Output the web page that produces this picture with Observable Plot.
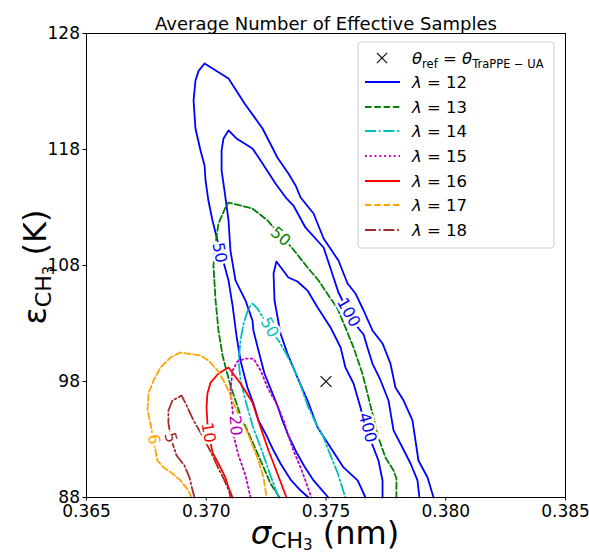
<!DOCTYPE html>
<html>
<head>
<meta charset="utf-8">
<script src="https://cdn.jsdelivr.net/npm/d3@7"></script>
<script src="https://cdn.jsdelivr.net/npm/@observablehq/plot@0.6"></script>
<style>
  html, body { margin: 0; padding: 0; background: white; }
  #chart { width: 589px; height: 554px; }
</style>
</head>
<body>
<div id="chart"></div>
<script>
// ---- Tick values ----
const xTicks = [0.365, 0.370, 0.375, 0.380, 0.385];
const yTicks = [88, 98, 108, 118, 128];

// ---- Reference point theta_TraPPE-UA ----
const refPoint = [{sigma: 0.375, epsilon: 98}];

// ---- Contour lines [sigma (nm), epsilon (K)] ----
// lambda = 12, level 50
const lam12_n50 = [[0.37427,88.00],[0.37394,88.60],[0.37352,89.55],[0.37310,90.93],[0.37281,92.05],[0.37247,93.52],[0.37218,94.64],[0.37197,96.10],[0.37172,97.48],[0.37143,99.81],[0.37126,101.97],[0.37110,104.55],[0.37093,106.71],[0.37068,108.60],[0.37047,110.16],[0.37026,111.88],[0.37009,113.60],[0.36997,115.33],[0.36993,116.62],[0.36976,117.91],[0.36955,119.81],[0.36947,122.22],[0.36955,123.95],[0.36968,124.78],[0.36993,125.41],[0.37093,124.12],[0.37160,121.97],[0.37235,119.81],[0.37297,117.31],[0.37343,115.93],[0.37373,114.90],[0.37394,113.86],[0.37448,112.48],[0.37490,110.33],[0.37552,108.43],[0.37590,106.45],[0.37623,105.59],[0.37657,104.12],[0.37694,102.40],[0.37736,101.28],[0.37769,99.55],[0.37790,97.48],[0.37824,96.36],[0.37861,94.64],[0.37886,91.19],[0.37924,89.72],[0.37949,88.00]];
// lambda = 12, level 100
const lam12_n100 = [[0.37510,88.00],[0.37485,88.60],[0.37448,89.47],[0.37410,90.67],[0.37377,91.88],[0.37343,93.34],[0.37318,94.64],[0.37297,95.93],[0.37272,97.22],[0.37243,98.69],[0.37218,100.67],[0.37197,102.40],[0.37193,103.26],[0.37164,104.98],[0.37122,106.71],[0.37101,109.29],[0.37093,111.88],[0.37076,114.47],[0.37064,116.19],[0.37064,117.91],[0.37072,118.95],[0.37093,119.64],[0.37126,118.95],[0.37193,118.09],[0.37235,116.79],[0.37289,115.07],[0.37335,113.78],[0.37364,113.17],[0.37414,111.28],[0.37490,109.55],[0.37519,107.74],[0.37552,105.67],[0.37594,103.95],[0.37636,102.57],[0.37657,102.05],[0.37673,100.93],[0.37694,99.55],[0.37728,98.09],[0.37761,96.36],[0.37782,93.78],[0.37819,92.31],[0.37853,90.93],[0.37882,89.47],[0.37890,88.00]];
// lambda = 12, level 400
const lam12_n400 = [[0.37665,88.00],[0.37632,89.47],[0.37573,90.59],[0.37519,92.31],[0.37465,94.03],[0.37423,96.36],[0.37381,98.34],[0.37339,100.41],[0.37310,102.14],[0.37285,104.98],[0.37281,107.31],[0.37293,108.34],[0.37343,106.97],[0.37381,106.62],[0.37423,105.84],[0.37465,104.38],[0.37519,102.66],[0.37561,100.93],[0.37581,99.21],[0.37615,97.83],[0.37644,95.76],[0.37665,94.03],[0.37698,92.31],[0.37719,91.19],[0.37736,89.47],[0.37736,88.00]];
// lambda = 13, level 50
const lam13_n50 = [[0.37306,88.00],[0.37268,89.21],[0.37227,91.19],[0.37185,93.17],[0.37143,95.07],[0.37101,97.66],[0.37068,100.24],[0.37051,102.40],[0.37039,104.98],[0.37030,108.00],[0.37039,109.90],[0.37051,111.62],[0.37080,113.00],[0.37093,113.43],[0.37193,112.91],[0.37256,111.88],[0.37310,110.59],[0.37360,109.47],[0.37423,107.83],[0.37469,106.71],[0.37519,105.16],[0.37548,104.29],[0.37581,102.66],[0.37615,100.93],[0.37652,98.69],[0.37673,96.97],[0.37694,95.24],[0.37719,93.17],[0.37748,91.45],[0.37782,90.33],[0.37794,89.64],[0.37794,88.00]];
// lambda = 14, level 50
const lam14_n50 = [[0.37302,88.00],[0.37268,89.90],[0.37235,91.88],[0.37193,94.21],[0.37164,96.36],[0.37143,98.09],[0.37135,99.81],[0.37143,101.53],[0.37156,103.00],[0.37176,104.29],[0.37193,104.72],[0.37214,104.29],[0.37239,103.43],[0.37268,102.40],[0.37302,101.53],[0.37331,100.50],[0.37364,99.21],[0.37394,97.66],[0.37423,95.93],[0.37456,94.47],[0.37490,93.17],[0.37519,91.62],[0.37548,90.16],[0.37581,88.00]];
// lambda = 15, level 20
const lam15_n20 = [[0.37185,88.00],[0.37164,89.90],[0.37135,91.62],[0.37114,93.34],[0.37110,95.50],[0.37101,97.22],[0.37110,98.95],[0.37130,99.72],[0.37164,99.98],[0.37197,99.98],[0.37227,98.95],[0.37256,97.48],[0.37297,95.93],[0.37323,94.64],[0.37343,93.34],[0.37364,92.05],[0.37394,90.59],[0.37414,89.47],[0.37439,88.00]];
// lambda = 16, level 10
const lam16_n10 = [[0.37110,88.00],[0.37093,88.86],[0.37080,89.72],[0.37051,90.93],[0.37026,91.88],[0.37014,93.17],[0.37005,94.38],[0.37001,95.76],[0.37005,96.97],[0.37018,97.91],[0.37051,98.69],[0.37093,99.21],[0.37143,97.83],[0.37193,96.19],[0.37227,94.03],[0.37260,92.05],[0.37297,90.07],[0.37335,88.00]];
// lambda = 17, level 6
const lam17_n6 = [[0.36938,88.00],[0.36926,88.60],[0.36892,89.47],[0.36859,90.07],[0.36822,90.59],[0.36796,91.19],[0.36780,92.91],[0.36767,94.38],[0.36755,95.50],[0.36759,96.97],[0.36780,98.09],[0.36809,99.21],[0.36851,100.07],[0.36892,100.50],[0.36976,100.24],[0.37009,99.81],[0.37047,98.95],[0.37072,98.09],[0.37093,97.22],[0.37114,96.10],[0.37143,94.81],[0.37172,93.60],[0.37197,92.31],[0.37218,91.19],[0.37239,89.72],[0.37252,88.00]];
// lambda = 18, level 5
const lam18_n5 = [[0.36951,88.00],[0.36943,88.60],[0.36930,89.72],[0.36909,90.76],[0.36876,91.62],[0.36855,92.91],[0.36842,94.38],[0.36842,95.50],[0.36859,96.36],[0.36897,96.79],[0.36918,95.93],[0.36947,94.64],[0.36976,93.60],[0.37005,92.48],[0.37030,91.45],[0.37051,90.50],[0.37076,89.47],[0.37097,88.43],[0.37101,88.00]];

// ---- Contour labels ----
const labelText  = ["50", "100", "400", "50", "50", "20", "10", "6", "5"];
const labelSigma = [0.37055, 0.37594, 0.37673, 0.37310, 0.37264, 0.37122, 0.37009, 0.36780, 0.36851];
const labelEps   = [109.12, 103.95, 94.03, 110.50, 102.66, 94.21, 93.60, 93.00, 93.17];
const labelAngle = [80, 60, 75, 40, 60, 85, 80, 80, 75];
const labelSeries = [0, 0, 0, 1, 2, 3, 4, 5, 6];

// ---- Series styling ----
const seriesNames = ["λ = 12", "λ = 13", "λ = 14", "λ = 15", "λ = 16", "λ = 17", "λ = 18"];
const seriesColors = ["#0000ff", "#008000", "#00bfbf", "#bf00bf", "#ff0000", "#ffa500", "#a52a2a"];
const seriesDash = [null, "6.5,2.8", "11,2.8,1.8,2.8", "1.8,3", null, "6.5,2.8", "11,2.8,1.8,2.8"];
const seriesPaths = [[lam12_n50, lam12_n100, lam12_n400], [lam13_n50], [lam14_n50], [lam15_n20], [lam16_n10], [lam17_n6], [lam18_n5]];

const FONT = "DejaVu Sans, sans-serif";
const LW = 1.8;
const marks = [];

seriesPaths.forEach((paths, si) => {
  paths.forEach(path => {
    marks.push(Plot.line(path, {
      x: d => d[0], y: d => d[1],
      stroke: seriesColors[si],
      strokeWidth: LW,
      strokeDasharray: seriesDash[si] || undefined,
      curve: "linear"
    }));
  });
});

labelText.forEach((t, i) => {
  marks.push(Plot.text([{x: labelSigma[i], y: labelEps[i], t}], {
    x: "x", y: "y", text: "t",
    fill: seriesColors[labelSeries[i]],
    rotate: labelAngle[i],
    fontSize: 16,
    stroke: "white", strokeWidth: 5, paintOrder: "stroke"
  }));
});

marks.push(Plot.dot(refPoint, {x: "sigma", y: "epsilon", symbol: "times", r: 5, stroke: "black", strokeWidth: 1.1}));
marks.push(Plot.frame({stroke: "black", strokeWidth: 1}));
marks.push(Plot.axisX({ticks: xTicks, tickFormat: d3.format(".3f"), tickSize: 3.5, tickPadding: 4, fontSize: 17, label: null}));
marks.push(Plot.axisY({ticks: yTicks, tickFormat: d3.format("d"), tickSize: 3.5, tickPadding: 3, fontSize: 17, label: null}));
marks.push(Plot.text(["Average Number of Effective Samples"], {frameAnchor: "top", dy: -16, fontSize: 18}));

const svgEl = Plot.plot({
  width: 589, height: 554,
  marginTop: 33, marginLeft: 86, marginRight: 24, marginBottom: 57,
  x: {domain: [0.365, 0.385]},
  y: {domain: [88, 128]},
  style: {fontFamily: FONT, fontSize: "16px", color: "black", background: "white"},
  marks
});

const svg = d3.select(svgEl);

// ---- Axis labels (with subscripts) ----
const xl = svg.append("text").attr("x", 325).attr("y", 544).attr("text-anchor", "middle")
  .attr("font-family", FONT).attr("font-size", 32).attr("fill", "black");
xl.append("tspan").attr("font-style", "italic").text("σ");
xl.append("tspan").attr("font-size", 22).attr("dy", 4).text("CH");
xl.append("tspan").attr("font-size", 15).attr("dy", 2).text("3");
xl.append("tspan").attr("dy", -6).text(" (nm)");

const yl = svg.append("text").attr("transform", "translate(46,267) rotate(-90)").attr("text-anchor", "middle")
  .attr("font-family", FONT).attr("font-size", 32).attr("fill", "black");
yl.append("tspan").text("ε");
yl.append("tspan").attr("font-size", 22).attr("dy", 5).text("CH");
yl.append("tspan").attr("font-size", 15).attr("dy", 3).text("3");
yl.append("tspan").attr("dy", -8).text(" (K)");

// ---- Legend ----
const lg = svg.append("g").attr("font-family", FONT).attr("font-size", 16.5).attr("text-anchor", "start");
lg.append("rect").attr("x", 358).attr("y", 42).attr("width", 196).attr("height", 206)
  .attr("rx", 3).attr("fill", "white").attr("fill-opacity", 0.8).attr("stroke", "#cccccc");
const rowY = [58, 82, 107, 131, 156, 181, 205, 230];
lg.append("path").attr("d", d3.symbol(d3.symbolTimes, 70)()).attr("transform", `translate(382,${rowY[0]})`)
  .attr("stroke", "black").attr("stroke-width", 1.1).attr("fill", "none");
const t0 = lg.append("text").attr("x", 412).attr("y", rowY[0]).attr("dy", "0.35em").attr("fill", "black").attr("text-anchor", "start");
t0.append("tspan").attr("font-style", "italic").text("θ");
t0.append("tspan").attr("font-size", 11.5).attr("dy", 4).text("ref");
t0.append("tspan").attr("dy", -4).text(" = ");
t0.append("tspan").attr("font-style", "italic").text("θ");
t0.append("tspan").attr("font-size", 11.5).attr("dy", 4).text("TraPPE − UA");
seriesNames.forEach((name, i) => {
  const y = rowY[i + 1];
  lg.append("line").attr("x1", 365).attr("x2", 400).attr("y1", y).attr("y2", y)
    .attr("stroke", seriesColors[i]).attr("stroke-width", LW)
    .attr("stroke-dasharray", seriesDash[i] || null);
  const t = lg.append("text").attr("x", 412).attr("y", y).attr("dy", "0.35em").attr("fill", "black").attr("text-anchor", "start");
  t.append("tspan").attr("font-style", "italic").text("λ");
  t.append("tspan").text(name.slice(1));
});

document.getElementById("chart").appendChild(svgEl);
</script>
</body>
</html>
